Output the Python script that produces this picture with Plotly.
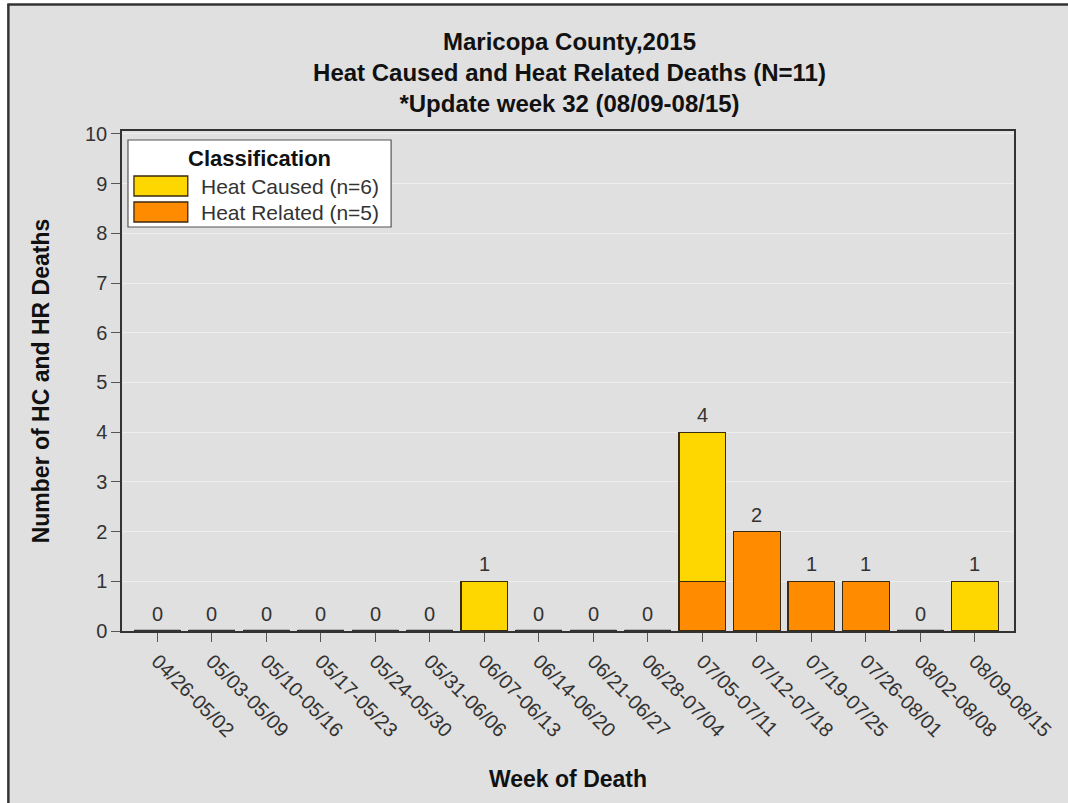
import plotly.graph_objects as go

weeks = ["04/26-05/02", "05/03-05/09", "05/10-05/16", "05/17-05/23", "05/24-05/30",
         "05/31-06/06", "06/07-06/13", "06/14-06/20", "06/21-06/27", "06/28-07/04",
         "07/05-07/11", "07/12-07/18", "07/19-07/25", "07/26-08/01", "08/02-08/08",
         "08/09-08/15"]
heat_caused = [0, 0, 0, 0, 0, 0, 1, 0, 0, 0, 3, 0, 0, 0, 0, 1]
heat_related = [0, 0, 0, 0, 0, 0, 0, 0, 0, 0, 1, 2, 1, 1, 0, 0]
series_names = ["Heat Caused (n=6)", "Heat Related (n=5)"]
legend_title = "Classification"
y_ticks = [0, 1, 2, 3, 4, 5, 6, 7, 8, 9, 10]

totals = [a + b for a, b in zip(heat_caused, heat_related)]
zero_weeks = [w for w, t in zip(weeks, totals) if t == 0]
zero_vals = [0 for _ in zero_weeks]

FONT = "Liberation Sans, Arial, sans-serif"
YELLOW = "#FFD700"
ORANGE = "#FF8C00"
EDGE = "#3a2a10"
series_colors = [YELLOW, ORANGE]

fig = go.Figure()
fig.add_trace(go.Bar(x=weeks, y=heat_related, name=series_names[1], showlegend=False,
                     marker=dict(color=ORANGE, line=dict(color=EDGE, width=1.3)),
                     width=0.86))
fig.add_trace(go.Bar(x=weeks, y=heat_caused, name=series_names[0], showlegend=False,
                     marker=dict(color=YELLOW, line=dict(color=EDGE, width=1.3)),
                     width=0.86))
# zero-count weeks shown as a flat line at the baseline
fig.add_trace(go.Scatter(x=zero_weeks, y=zero_vals, mode="markers", showlegend=False,
                         hoverinfo="skip",
                         marker=dict(symbol="line-ew", size=33,
                                     line=dict(color="#333333", width=2.5))))

W, H = 1068, 803
ml, mr, mt, mb = 122, 51, 131, 172
pw = W - ml - mr
ph = H - mt - mb


def px_x(p):
    return (p - ml) / pw


def px_y(p):
    return 1 - (p - mt) / ph


annotations = []
for w, t in zip(weeks, totals):
    annotations.append(dict(x=w, y=t, xref="x", yref="y", text=str(t), showarrow=False,
                            yanchor="bottom", yshift=4,
                            font=dict(family=FONT, size=20, color="#333333")))

shapes = [
    # page background + frame (top and left rules)
    dict(type="rect", xref="paper", yref="paper", x0=px_x(8), x1=px_x(W + 5),
         y0=px_y(H + 5), y1=px_y(5), fillcolor="#e0e0e0", line=dict(width=0), layer="below"),
    dict(type="line", xref="paper", yref="paper", x0=px_x(7), x1=px_x(W + 5),
         y0=px_y(4.5), y1=px_y(4.5), line=dict(color="#333333", width=2.5), layer="below"),
    dict(type="line", xref="paper", yref="paper", x0=px_x(8), x1=px_x(8),
         y0=px_y(H + 5), y1=px_y(4), line=dict(color="#333333", width=2.5), layer="below"),
    # legend box
    dict(type="rect", xref="paper", yref="paper", x0=px_x(128), x1=px_x(392),
         y0=px_y(227), y1=px_y(140), fillcolor="white", line=dict(color="#555555", width=1.2)),
]
sw_top = [176, 202]
for name, col, top in zip(series_names, series_colors, sw_top):
    shapes.append(dict(type="rect", xref="paper", yref="paper", x0=px_x(134), x1=px_x(188),
                       y0=px_y(top + 20), y1=px_y(top), fillcolor=col,
                       line=dict(color=EDGE, width=1.3)))
    annotations.append(dict(x=px_x(199), y=px_y(top + 10), xref="paper", yref="paper",
                            text=name, showarrow=False, xanchor="left", yanchor="middle",
                            font=dict(family=FONT, size=21, color="#333333")))
annotations.append(dict(x=px_x(260), y=px_y(158), xref="paper", yref="paper",
                        text="<b>" + legend_title + "</b>", showarrow=False,
                        xanchor="center", yanchor="middle",
                        font=dict(family=FONT, size=22, color="#111111")))

fig.update_layout(
    width=W, height=H,
    barmode="stack",
    paper_bgcolor="white",
    plot_bgcolor="white",
    margin=dict(l=ml, r=mr, t=mt, b=mb, pad=0),
    title=dict(
        text="Maricopa County,2015<br>Heat Caused and Heat Related Deaths (N=11)<br>*Update week 32 (08/09-08/15)",
        x=(ml + pw / 2) / W, xanchor="center", y=1 - 50 / H, yanchor="top",
        font=dict(family=FONT, size=24, color="#111111", weight="bold"),
    ),
    font=dict(family=FONT, color="#333333"),
    showlegend=False,
    xaxis=dict(
        type="category", categoryorder="array", categoryarray=weeks,
        range=[-0.65, 15.72],
        tickangle=45, ticks="outside", ticklen=9, tickcolor="#555555",
        tickfont=dict(family=FONT, size=20, color="#333333"),
        showline=True, linecolor="#333333", linewidth=1.5, mirror=True,
        showgrid=False,
        title=dict(text="Week of Death", standoff=31,
                   font=dict(family=FONT, size=23, color="#111111", weight="bold")),
    ),
    yaxis=dict(
        range=[0, 10.06], tickvals=y_ticks, ticks="outside", ticklen=9,
        tickcolor="#555555",
        tickfont=dict(family=FONT, size=20, color="#333333"),
        showline=True, linecolor="#333333", linewidth=1.5, mirror=True,
        showgrid=True, gridcolor="#eeeeee", gridwidth=1, zeroline=False,
        title=dict(text="Number of HC and HR Deaths", standoff=29,
                   font=dict(family=FONT, size=23, color="#111111", weight="bold")),
    ),
    shapes=shapes,
    annotations=annotations,
)

fig.write_html("out.html", config={"displayModeBar": False},
               post_script="document.body.style.margin='0';document.body.style.overflow='hidden';")
